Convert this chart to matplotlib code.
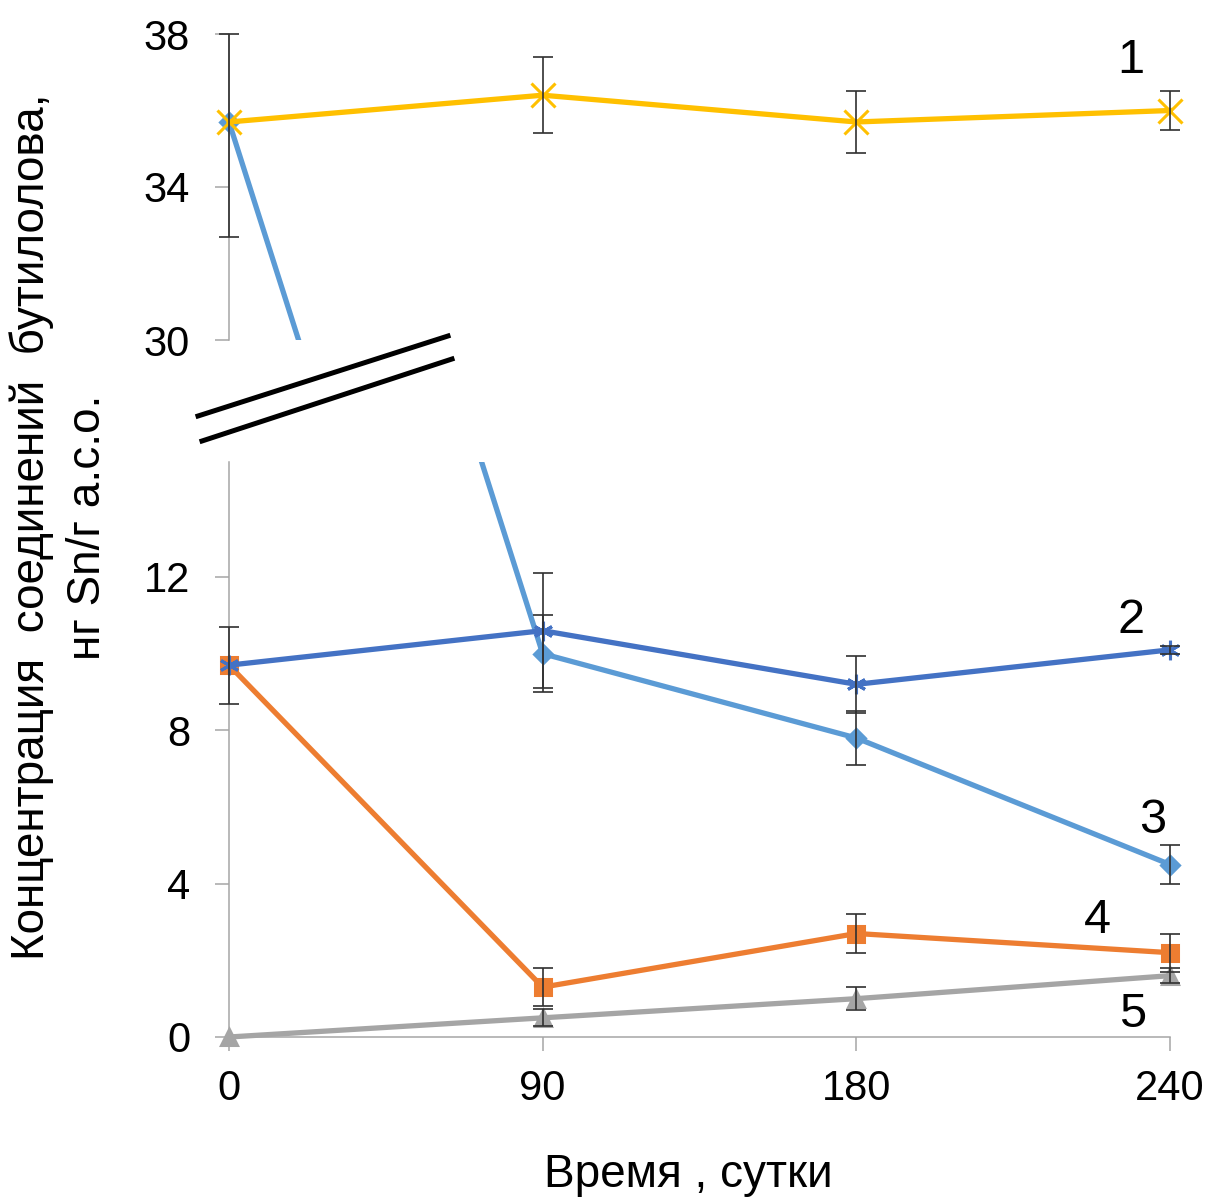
import numpy as np
import matplotlib
matplotlib.use('Agg')
import matplotlib.pyplot as plt
from matplotlib.patches import Rectangle
from matplotlib.lines import Line2D

plt.rcParams['font.family'] = ['Liberation Sans', 'DejaVu Sans']

# data
days = ['0', '90', '180', '240']
s1 = [35.7, 36.4, 35.7, 36.0]
s1_lo = [3.0, 1.0, 0.8, 0.5]
s1_hi = [2.3, 1.0, 0.8, 0.5]
s2 = [9.7, 10.6, 9.2, 10.1]
s2_err = [1.0, 1.5, 0.75, 0.1]
s3 = [35.7, 10.0, 7.8, 4.5]
s3_err = [0.0, 1.0, 0.7, 0.5]
s4 = [9.7, 1.3, 2.7, 2.2]
s4_err = [0.0, 0.5, 0.5, 0.5]
s5 = [0.0, 0.5, 1.0, 1.6]
s5_err = [0.0, 0.22, 0.3, 0.2]

W, H = 1207, 1198
fig = plt.figure(figsize=(W / 100, H / 100), dpi=100)

left = 229 / W
width = (1170 - 229) / W
ax_top = fig.add_axes([left, 1 - 340 / H, width, (340 - 34) / H])
ax_bot = fig.add_axes([left, 1 - 1037 / H, width, (1037 - 462) / H])

x = np.arange(len(days))
axis_col = '#A6A6A6'

# (values, err low, err high, color, marker, size, zorder)
series = [
    (s5, s5_err, s5_err, '#A5A5A5', '^', 12, 2),
    (s4, s4_err, s4_err, '#ED7D31', 's', 11, 3),
    (s3, s3_err, s3_err, '#5B9BD5', 'D', 9, 4),
    (s2, s2_err, s2_err, '#4472C4', (6, 2, 0), 14, 5),
    (s1, s1_lo, s1_hi, '#FFC000', 'x', 17, 6),
]

for ax, clip_box in [(ax_top, (-0.05, 0.0, 1.1, 1.08)),
                     (ax_bot, (-0.05, -0.08, 1.1, 1.08))]:
    for vals, lo, hi, col, mk, ms, z in series:
        clip = Rectangle(clip_box[:2], clip_box[2], clip_box[3],
                         transform=ax.transAxes, fill=False, visible=False)
        ln, = ax.plot(x, vals, color=col, lw=3.8, marker=mk, ms=ms,
                      mfc=col, mec=col, mew=2.2, zorder=z)
        ln.set_clip_path(clip)
        lo = np.array(lo)
        hi = np.array(hi)
        m = (lo > 0) | (hi > 0)
        eb = ax.errorbar(x[m], np.array(vals)[m], yerr=[lo[m], hi[m]], fmt='none',
                         ecolor='#303030', elinewidth=1.2, capsize=7.5,
                         capthick=1.2, zorder=10)
        for art in eb.get_children():
            art.set_clip_path(clip)
    ax.set_xlim(0, 3)
    ax.spines['top'].set_visible(False)
    ax.spines['right'].set_visible(False)
    ax.spines['left'].set_color(axis_col)
    ax.spines['bottom'].set_color(axis_col)
    ax.spines['left'].set_linewidth(1.1)
    ax.spines['bottom'].set_linewidth(1.1)
    ax.tick_params(axis='y', length=10, width=1.1, color=axis_col,
                   labelsize=30, pad=18)
    ax.patch.set_alpha(0)

ax_top.set_ylim(30, 38)
ax_top.set_yticks([30, 34, 38])
ax_top.spines['bottom'].set_visible(False)
ax_top.set_xticks([])

ax_bot.set_ylim(0, 15)
ax_bot.set_yticks([0, 4, 8, 12])
ax_bot.set_xticks(x)
ax_bot.set_xticklabels(days)
ax_bot.tick_params(axis='x', length=10, width=1.1, color=axis_col,
                   labelsize=30, pad=13)

# series numbers
ax_top.text(2.876, 36.98, '1', fontsize=35, ha='center', va='baseline')
ax_bot.text(2.876, 10.54, '2', fontsize=35, ha='center', va='baseline')
ax_bot.text(2.946, 5.32, '3', fontsize=35, ha='center', va='baseline')
ax_bot.text(2.767, 2.71, '4', fontsize=35, ha='center', va='baseline')
ax_bot.text(2.882, 0.26, '5', fontsize=35, ha='center', va='baseline')

# axis break marks
fig.add_artist(Line2D([198 / W, 448 / W], [1 - 416 / H, 1 - 336 / H],
                      transform=fig.transFigure, color='black', lw=3.6))
fig.add_artist(Line2D([202 / W, 452 / W], [1 - 441 / H, 1 - 359 / H],
                      transform=fig.transFigure, color='black', lw=3.6))

fig.text(60 / W, 1 - 527 / H,
         'Концентрация  соединений  бутилолова,\nнг Sn/г а.с.о.',
         rotation=90, ha='center', va='center', multialignment='center',
         fontsize=33, linespacing=1.35)
fig.text(688 / W, 1 - 1175 / H, 'Время , сутки', ha='center', va='center',
         fontsize=33)

fig.savefig('out.png', dpi=100)
